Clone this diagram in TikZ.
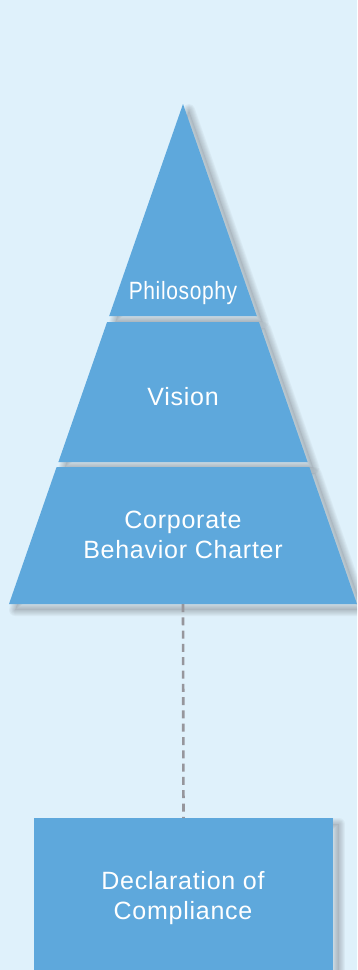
\documentclass[tikz,border=0pt]{standalone}
\usepackage{fontspec}
\newfontfamily\labelfont[LetterSpace=3]{Liberation Sans}
\definecolor{bgblue}{RGB}{223,241,251}
\definecolor{tierblue}{RGB}{94,168,220}
\definecolor{shadowgray}{RGB}{100,104,110}
\definecolor{dashgray}{RGB}{150,150,156}
\begin{document}
\begin{tikzpicture}[x=1pt,y=-1pt,
    tier/.style={fill=tierblue},
    drop/.style={fill=shadowgray,fill opacity=0.12},
    blur/.style={draw=shadowgray,draw opacity=0.06,line width=#1,line join=round},
    lbl/.style={text=white,align=center,font=\labelfont\fontsize{25}{30}\selectfont},
    box/.style={fill=tierblue,minimum width=299pt,minimum height=160pt,inner sep=0pt}]
  \clip (0,0) rectangle (357,970);
  \fill[bgblue] (0,0) rectangle (357,970);

  % soft shadows, right and down
  \begin{scope}[shift={(6,6)}]
    \fill[drop] (183,104) -- (256.8,316) -- (109.2,316) -- cycle;
    \fill[drop] (107.1,322) -- (258.9,322) -- (307.6,462) -- (58.4,462) -- cycle;
    \fill[drop] (56.6,467) -- (309.4,467) -- (357,604) -- (9,604) -- cycle;
    \fill[drop] (34,818) rectangle (333,978);
    \foreach \w in {2,4,...,12} {
      \draw[blur=\w pt] (183,104) -- (256.8,316) -- (109.2,316) -- cycle;
      \draw[blur=\w pt] (107.1,322) -- (258.9,322) -- (307.6,462) -- (58.4,462) -- cycle;
      \draw[blur=\w pt] (56.6,467) -- (309.4,467) -- (357,604) -- (9,604) -- cycle;
      \draw[blur=\w pt] (34,818) rectangle (333,978);
    }
  \end{scope}

  % pyramid
  \fill[tier] (183,104) -- (256.8,316) -- (109.2,316) -- cycle;
  \fill[tier] (107.1,322) -- (258.9,322) -- (307.6,462) -- (58.4,462) -- cycle;
  \fill[tier] (56.6,467) -- (309.4,467) -- (357,604) -- (9,604) -- cycle;
  \coordinate (base) at (183,604);

  \node[lbl, anchor=base] (philo) at (183,299) {\scalebox{0.84}[1]{Philosophy}};
  \node[lbl, anchor=base] (vision) at (183,405) {Vision};
  \node[lbl] (charter) at (183,535) {Corporate\\Behavior Charter};

  % declaration box
  \node[box, anchor=north] (declare) at (183.5,818) {};
  \node[lbl] (decltext) at (183,898) {Declaration of\\Compliance};

  \draw[dashgray, line width=2.6pt, dash pattern=on 8pt off 5.3pt] (base) -- (declare.north);
\end{tikzpicture}
\end{document}
